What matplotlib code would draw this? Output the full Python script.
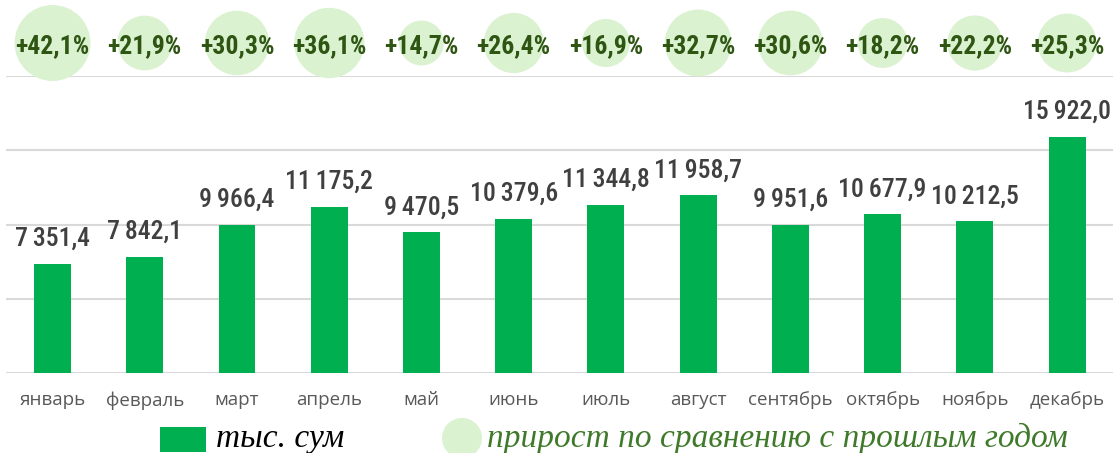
import matplotlib
matplotlib.use("Agg")
import matplotlib.pyplot as plt
from matplotlib import font_manager
from matplotlib.transforms import blended_transform_factory
from matplotlib.patches import Rectangle, Circle

months = ["январь", "февраль", "март", "апрель", "май", "июнь",
          "июль", "август", "сентябрь", "октябрь", "ноябрь", "декабрь"]
values = [7351.4, 7842.1, 9966.4, 11175.2, 9470.5, 10379.6,
          11344.8, 11958.7, 9951.6, 10677.9, 10212.5, 15922.0]
growth = [42.1, 21.9, 30.3, 36.1, 14.7, 26.4, 16.9, 32.7, 30.6, 18.2, 22.2, 25.3]
legend_labels = ["тыс. сум", "прирост по сравнению с прошлым годом"]


def pick(cands):
    for c in cands:
        try:
            font_manager.findfont(c, fallback_to_default=False)
            return c
        except Exception:
            pass
    return "DejaVu Sans"


narrow = pick(["Roboto Condensed", "Liberation Sans Narrow", "DejaVu Sans Condensed", "Liberation Sans"])
sans = pick(["Open Sans", "Noto Sans", "DejaVu Sans"])
serif = pick(["Liberation Serif", "DejaVu Serif"])

W, H = 1114, 453
fig = plt.figure(figsize=(W / 100, H / 100), dpi=100)
ax = fig.add_axes([6.4 / W, (H - 373) / H, (1113.2 - 6.4) / W, (373 - 76) / H])

bar_color = "#00B050"
x = list(range(len(months)))
ax.bar(x, values, width=0.40, color=bar_color, zorder=3)
ax.set_xlim(-0.5, len(months) - 0.5)
ax.set_ylim(0, 20000)
ax.set_yticks([0, 5000, 10000, 15000, 20000])
ax.yaxis.grid(True, color="#D9D9D9", linewidth=1.5, zorder=0)
ax.tick_params(axis="y", left=False, labelleft=False)
for s in ["top", "right", "left", "bottom"]:
    ax.spines[s].set_visible(False)
ax.set_xticks(x)
ax.set_xticklabels(months, fontsize=13.5, color="#595959", family=sans)
ax.tick_params(axis="x", length=0, pad=13)

for xi, v in zip(x, values):
    s = f"{v:,.1f}".replace(",", "\u2009").replace(".", ",")
    ax.annotate(s, (xi, v), xytext=(0, 13), textcoords="offset points",
                ha="center", va="baseline", fontsize=18.5, color="#404040",
                family=narrow, fontweight="medium")

# growth bubbles
tr = blended_transform_factory(ax.transData, fig.transFigure)
sizes = [g * 71.0 for g in growth]
ax.scatter(x, [1 - 43 / H] * len(x), s=sizes, color="#DAF2D0", transform=tr,
           clip_on=False, zorder=4, linewidths=0)
for xi, g in zip(x, growth):
    ax.text(xi, 1 - 53 / H, f"+{g:.1f}%".replace(".", ","), transform=tr,
            ha="center", va="baseline", fontsize=18.5, color="#2F5513",
            family=narrow, fontweight="bold", zorder=5)

# legend (manual)
ov = fig.add_axes([0, 0, 1, 1], zorder=-1)
ov.set_xlim(0, W)
ov.set_ylim(H, 0)
ov.axis("off")
ov.add_patch(Rectangle((160, 426.5), 45.5, 25, color=bar_color, lw=0))
ov.text(216, 447, legend_labels[0], fontsize=24, style="italic", family=serif,
        color="#000000", va="baseline", ha="left")
ov.add_patch(Circle((462, 438), 20, color="#DAF2D0", lw=0))
ov.text(487, 447, legend_labels[1], fontsize=24, style="italic", family=serif,
        color="#3F7A2A", va="baseline", ha="left")

fig.savefig("out.png", dpi=100)
